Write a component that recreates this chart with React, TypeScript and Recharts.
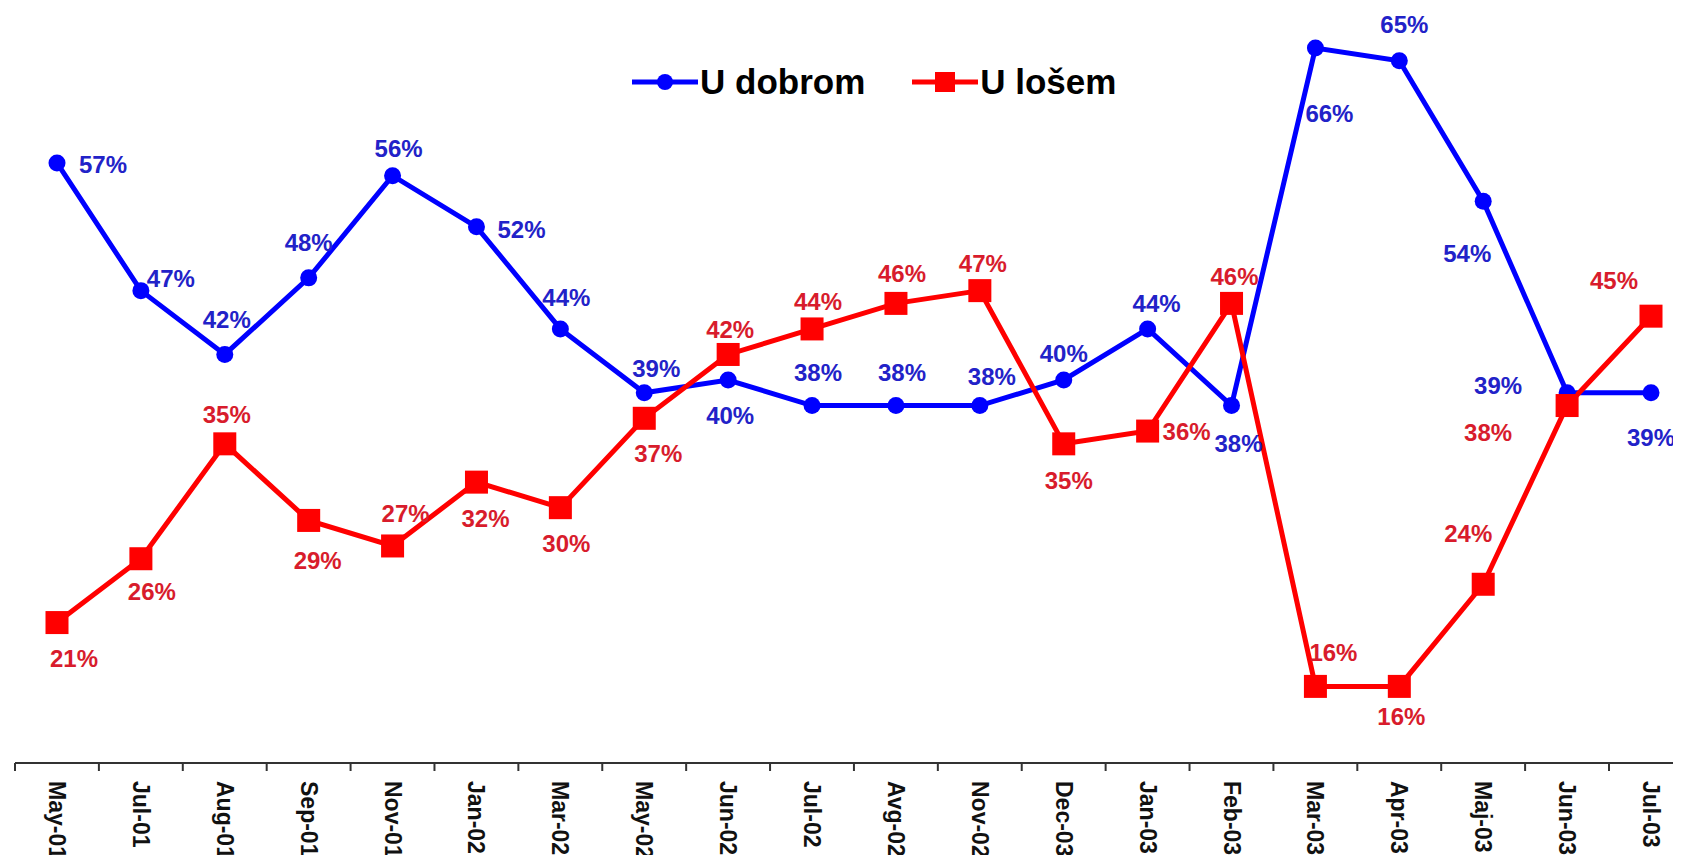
import React from 'react';
import { LineChart, Line, XAxis, YAxis, LabelList, Legend } from 'recharts';

// ---- data ----
const categories = [
  'May-01', 'Jul-01', 'Aug-01', 'Sep-01', 'Nov-01', 'Jan-02', 'Mar-02', 'May-02', 'Jun-02', 'Jul-02',
  'Avg-02', 'Nov-02', 'Dec-03', 'Jan-03', 'Feb-03', 'Mar-03', 'Apr-03', 'Maj-03', 'Jun-03', 'Jul-03',
];
const uDobrom = [57, 47, 42, 48, 56, 52, 44, 39, 40, 38, 38, 38, 40, 44, 38, 66, 65, 54, 39, 39];
const uLosem = [21, 26, 35, 29, 27, 32, 30, 37, 42, 44, 46, 47, 35, 36, 46, 16, 16, 24, 38, 45];
const seriesNames = { dobrom: 'U dobrom', losem: 'U lošem' };

const data = categories.map((c, i) => ({ cat: c, dobrom: uDobrom[i], losem: uLosem[i] }));

// ---- styles ----
const FONT = '"Liberation Sans", Arial, Helvetica, sans-serif';
const BLUE = '#0000FF';
const RED = '#FF0000';
const BLUE_LABEL = '#2222C8';
const RED_LABEL = '#D81C2C';
const HALF_BAND = 42;

// label offsets (dx, dy) relative to each point
const blueLabelOffsets: [number, number][] = [
  [46, 2], [30, -12], [2, -35], [0, -35], [6, -27], [45, 3], [6, -31], [12, -24], [2, 35], [6, -33],
  [6, -33], [12, -29], [0, -27], [9, -25], [7, 38], [14, 65], [5, -36], [-16, 52], [-69, -7], [0, 45],
];
const redLabelOffsets: [number, number][] = [
  [17, 36], [11, 33], [2, -29], [9, 40], [13, -32], [9, 36], [6, 36], [14, 35], [2, -25], [6, -27],
  [6, -30], [3, -27], [5, 37], [39, 0], [3, -27], [18, -34], [2, 30], [-15, -51], [-79, 27], [-37, -36],
];

const makeLabel = (offsets: [number, number][], color: string) => (props: any) => {
  const { x, y, value } = props;
  let index = props.index;
  if (index === undefined || index === null) index = Math.round((Number(x) - 57) / 83.9);
  const off = offsets[index] || [0, -30];
  return (
    <text
      x={Number(x) + off[0]}
      y={Number(y) + off[1]}
      textAnchor="middle"
      dominantBaseline="central"
      fill={color}
      fontSize={24}
      fontWeight="bold"
      fontFamily={FONT}
    >
      {value}%
    </text>
  );
};

const BlueDot = (props: any) => {
  const { cx, cy, index } = props;
  if (cx == null || cy == null) return null;
  return <circle key={`bd-${index}`} cx={cx} cy={cy} r={8.5} fill={BLUE} />;
};

const RedDot = (props: any) => {
  const { cx, cy, index } = props;
  if (cx == null || cy == null) return null;
  return <rect key={`rd-${index}`} x={cx - 11.5} y={cy - 11.5} width={23} height={23} fill={RED} />;
};

const XTick = (props: any) => {
  const { x, y, payload } = props;
  return (
    <g>
      <line x1={x - HALF_BAND} y1={y} x2={x - HALF_BAND} y2={y + 8} stroke="#333" strokeWidth={2} />
      <text
        transform={`translate(${x},${y + 18}) rotate(90)`}
        textAnchor="start"
        dominantBaseline="central"
        fontSize={23}
        fontWeight="bold"
        fontFamily={FONT}
        fill="#111"
      >
        {payload.value}
      </text>
    </g>
  );
};

const renderLegend = (props: any) => {
  const payload = props.payload || [];
  return (
    <div
      style={{
        display: 'flex',
        alignItems: 'center',
        fontFamily: FONT,
        fontWeight: 'bold',
        fontSize: 35,
        color: '#000',
        whiteSpace: 'nowrap',
        lineHeight: 'normal',
      }}
    >
      {payload.map((p: any, i: number) => {
        const isRed = p.dataKey === 'losem';
        return (
          <div key={i} style={{ display: 'flex', alignItems: 'center', marginLeft: i === 0 ? 0 : 47 }}>
            <svg width={66} height={30} style={{ display: 'block' }}>
              <line x1={0} y1={15} x2={66} y2={15} stroke={p.color} strokeWidth={5} />
              {isRed ? (
                <rect x={23} y={5} width={20} height={20} fill={p.color} />
              ) : (
                <circle cx={33} cy={15} r={8} fill={p.color} />
              )}
            </svg>
            <span style={{ marginLeft: 2 }}>{p.value}</span>
          </div>
        );
      })}
    </div>
  );
};

export default function App() {
  return (
    <div
      style={{
        position: 'relative',
        width: 1681,
        height: 863,
        overflow: 'hidden',
        margin: -8,
        background: '#fff',
      }}
    >
      <div style={{ position: 'absolute', left: 0, top: -10 }}>
        <LineChart
          width={1720}
          height={880}
          data={data}
          margin={{ top: 7, right: 27, bottom: 7, left: 15 }}
        >
          <XAxis
            dataKey="cat"
            interval={0}
            padding={{ left: HALF_BAND, right: HALF_BAND }}
            axisLine={{ stroke: '#333', strokeWidth: 2 }}
            tickLine={false}
            tickSize={0}
            tickMargin={0}
            height={100}
            tick={<XTick />}
          />
          <YAxis hide domain={[10, 70]} />
          <Legend
            layout="horizontal"
            verticalAlign="middle"
            align="center"
            content={renderLegend}
            wrapperStyle={{ position: 'absolute', top: 72, left: 632, width: 'auto', height: 'auto' }}
          />
          <Line
            type="linear"
            dataKey="dobrom"
            name={seriesNames.dobrom}
            stroke={BLUE}
            strokeWidth={5}
            dot={<BlueDot />}
            activeDot={false}
            isAnimationActive={false}
          >
            <LabelList dataKey="dobrom" content={makeLabel(blueLabelOffsets, BLUE_LABEL)} />
          </Line>
          <Line
            type="linear"
            dataKey="losem"
            name={seriesNames.losem}
            stroke={RED}
            strokeWidth={5}
            dot={<RedDot />}
            activeDot={false}
            isAnimationActive={false}
          >
            <LabelList dataKey="losem" content={makeLabel(redLabelOffsets, RED_LABEL)} />
          </Line>
        </LineChart>
      </div>
    </div>
  );
}
